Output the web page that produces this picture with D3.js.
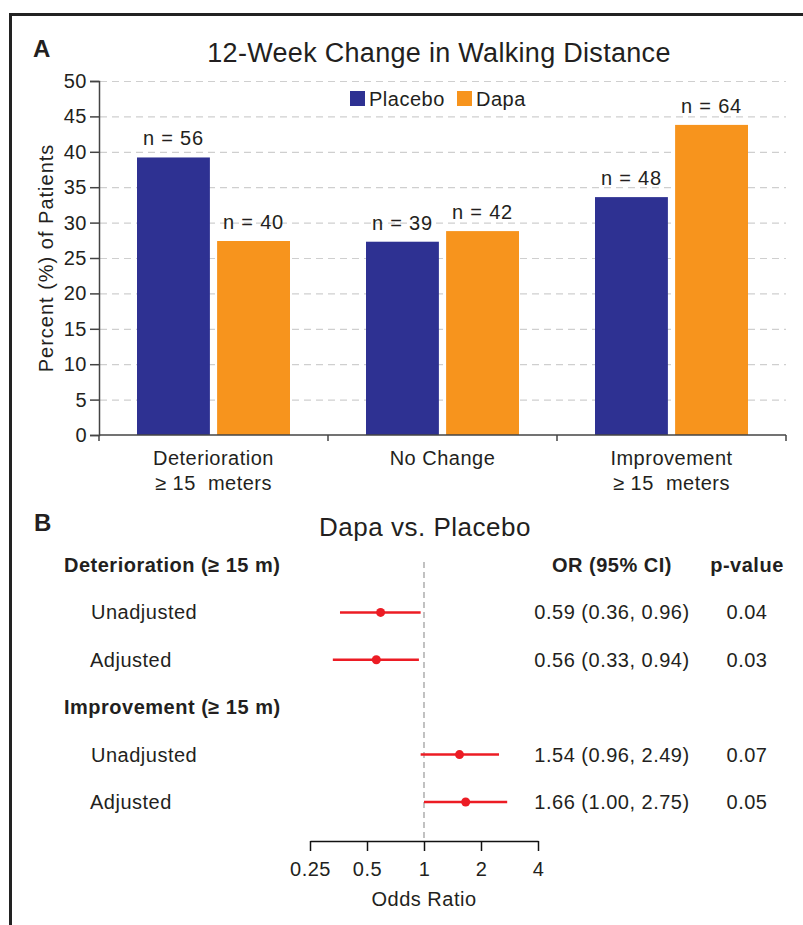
<!DOCTYPE html>
<html>
<head>
<meta charset="utf-8">
<script src="https://cdn.jsdelivr.net/npm/d3@7"></script>
<style>
  body { margin: 0; background: #fff; }
  svg { display: block; font-family: "Liberation Sans", Arial, sans-serif; }
  text { fill: #231f20; letter-spacing: 0.5px; }
</style>
</head>
<body>
<div id="plot"></div>
<script>
// panel A data
const categories = ["Deterioration\n≥ 15  meters", "No Change", "Improvement\n≥ 15  meters"];
const seriesNames = ["Placebo", "Dapa"];
const placeboPct = [39.2, 27.3, 33.6];
const dapaPct = [27.4, 28.8, 43.8];
const placeboN = [56, 39, 48];
const dapaN = [40, 42, 64];
const yTicks = [0, 5, 10, 15, 20, 25, 30, 35, 40, 45, 50];

// panel B data
const forestGroups = ["Deterioration (≥ 15 m)", "Improvement (≥ 15 m)"];
const forestLabels = ["Unadjusted", "Adjusted", "Unadjusted", "Adjusted"];
const orValues = [0.59, 0.56, 1.54, 1.66];
const ciLow = [0.36, 0.33, 0.96, 1.00];
const ciHigh = [0.96, 0.94, 2.49, 2.75];
const pValues = ["0.04", "0.03", "0.07", "0.05"];
const orTicks = [0.25, 0.5, 1, 2, 4];

const W = 803, H = 925;
const colors = { Placebo: "#2e3192", Dapa: "#f7941d" };
const red = "#ec1c24";
const FS = "20px";

const svg = d3.select("#plot").append("svg")
  .attr("width", W).attr("height", H);

// frame (only top and left show)
svg.append("path")
  .attr("d", "M10.5," + H + "V14.5H" + W)
  .attr("fill", "none").attr("stroke", "#222").attr("stroke-width", 3);

// ---------- Panel A ----------
svg.append("text").attr("x", 33).attr("y", 57)
  .style("font-weight", "bold").style("font-size", "24px").text("A");
svg.append("text").attr("x", 439).attr("y", 62)
  .attr("text-anchor", "middle").style("font-size", "27px")
  .style("letter-spacing", "0.3px")
  .text("12-Week Change in Walking Distance");

const y = d3.scaleLinear().domain([0, 50]).range([435, 81]);
const x0 = d3.scaleBand().domain(categories).range([99, 786]);
const x1 = d3.scaleBand().domain(seriesNames).range([38, 191]).paddingInner(0.09);

// grid
svg.append("g").selectAll("line")
  .data(yTicks.filter(d => d > 0))
  .join("line")
  .attr("x1", 100).attr("x2", 786)
  .attr("y1", d => y(d) + 0.5).attr("y2", d => y(d) + 0.5)
  .attr("stroke", "#cfcfcf").attr("stroke-width", 1.2)
  .attr("stroke-dasharray", "7,5");

const table = categories.map((c, i) => ({
  cat: c,
  vals: [
    { s: "Placebo", v: placeboPct[i], n: placeboN[i] },
    { s: "Dapa", v: dapaPct[i], n: dapaN[i] }
  ]
}));

const groups = svg.append("g").selectAll("g")
  .data(table).join("g")
  .attr("transform", d => "translate(" + x0(d.cat) + ",0)");

groups.selectAll("rect")
  .data(d => d.vals).join("rect")
  .attr("x", d => x1(d.s))
  .attr("width", x1.bandwidth())
  .attr("y", d => y(d.v))
  .attr("height", d => y(0) - y(d.v))
  .attr("fill", d => colors[d.s]);

groups.selectAll("text.n")
  .data(d => d.vals).join("text")
  .attr("class", "n")
  .attr("x", d => x1(d.s) + x1.bandwidth() / 2)
  .attr("y", d => y(d.v) - 12)
  .attr("text-anchor", "middle")
  .style("font-size", FS).style("letter-spacing", "0.8px")
  .text(d => "n = " + d.n);

// y axis
const yAxis = svg.append("g")
  .attr("transform", "translate(99,0)")
  .call(d3.axisLeft(y).tickValues(yTicks).tickSize(9).tickPadding(3));
yAxis.select(".domain").attr("stroke", "#444").attr("stroke-width", 1.5);
yAxis.selectAll(".tick line").attr("stroke", "#444").attr("stroke-width", 1.5);
yAxis.selectAll(".tick text").style("font-size", FS).attr("fill", "#231f20")
  .style("font-family", "'Liberation Sans', Arial, sans-serif");

svg.append("text")
  .attr("transform", "translate(53,258) rotate(-90)")
  .attr("text-anchor", "middle").style("font-size", FS)
  .style("letter-spacing", "1px")
  .text("Percent (%) of Patients");

// x axis with ticks at band edges
const xAxisG = svg.append("g");
xAxisG.append("line")
  .attr("x1", 99).attr("x2", 786).attr("y1", y(0)).attr("y2", y(0))
  .attr("stroke", "#444").attr("stroke-width", 1.5);
const edges = categories.map(c => x0(c) + x0.bandwidth()).concat([x0(categories[0])]);
xAxisG.selectAll("line.t")
  .data(edges).join("line")
  .attr("class", "t")
  .attr("x1", d => d).attr("x2", d => d)
  .attr("y1", y(0)).attr("y2", y(0) + 6)
  .attr("stroke", "#444").attr("stroke-width", 1.5);

const catLabels = svg.append("g").selectAll("text")
  .data(categories).join("text")
  .attr("x", d => x0(d) + x0.bandwidth() / 2)
  .attr("y", 465)
  .attr("text-anchor", "middle")
  .style("font-size", FS);
catLabels.selectAll("tspan")
  .data(d => d.split("\n")).join("tspan")
  .attr("x", function() { return this.parentNode.getAttribute("x"); })
  .attr("dy", (d, i) => i === 0 ? 0 : 25)
  .style("white-space", "pre")
  .text(d => d);

// legend
const legend = svg.append("g").selectAll("g")
  .data(seriesNames).join("g")
  .attr("transform", (d, i) => "translate(" + [350, 457][i] + ",91)");
legend.append("rect").attr("width", 15).attr("height", 15)
  .attr("fill", d => colors[d]);
legend.append("text").attr("x", 19).attr("y", 15)
  .style("font-size", FS).text(d => d);

// ---------- Panel B ----------
svg.append("text").attr("x", 34).attr("y", 531)
  .style("font-weight", "bold").style("font-size", "24px").text("B");
svg.append("text").attr("x", 425).attr("y", 536)
  .attr("text-anchor", "middle").style("font-size", "26px")
  .text("Dapa vs. Placebo");

const fx = d3.scaleLog().base(2).domain([0.25, 4]).range([310, 538]);
const rowY = d3.scalePoint().domain(d3.range(6)).range([565, 802]);
// row index: header 0, rows 1,2, header 3, rows 4,5
const rowIndex = [1, 2, 4, 5];
const headerIndex = [0, 3];

svg.append("line")
  .attr("x1", fx(1)).attr("x2", fx(1))
  .attr("y1", 562).attr("y2", 841)
  .attr("stroke", "#999").attr("stroke-width", 1.2)
  .attr("stroke-dasharray", "6,4");

svg.append("g").selectAll("text")
  .data(forestGroups).join("text")
  .attr("x", 64).attr("y", (d, i) => rowY(headerIndex[i]) + 7)
  .style("font-weight", "bold").style("font-size", FS)
  .text(d => d);

svg.append("text").attr("x", 612).attr("y", rowY(0) + 7)
  .attr("text-anchor", "middle").style("font-weight", "bold").style("font-size", FS)
  .text("OR (95% CI)");
svg.append("text").attr("x", 747).attr("y", rowY(0) + 7)
  .attr("text-anchor", "middle").style("font-weight", "bold").style("font-size", FS)
  .text("p-value");

const rows = forestLabels.map((l, i) => ({
  label: l, or: orValues[i], lo: ciLow[i], hi: ciHigh[i], p: pValues[i], r: rowIndex[i]
}));

const rowG = svg.append("g").selectAll("g")
  .data(rows).join("g");
rowG.append("text").attr("x", (d, i) => i % 2 === 0 ? 91 : 90)
  .attr("y", d => rowY(d.r) + 7).style("font-size", FS).text(d => d.label);
rowG.append("line")
  .attr("x1", d => fx(d.lo)).attr("x2", d => fx(d.hi))
  .attr("y1", d => rowY(d.r)).attr("y2", d => rowY(d.r))
  .attr("stroke", red).attr("stroke-width", 2.5);
rowG.append("circle")
  .attr("cx", d => fx(d.or)).attr("cy", d => rowY(d.r)).attr("r", 4.5)
  .attr("fill", red);
rowG.append("text").attr("x", 612).attr("y", d => rowY(d.r) + 7)
  .attr("text-anchor", "middle").style("font-size", FS)
  .text(d => d.or.toFixed(2) + " (" + d.lo.toFixed(2) + ", " + d.hi.toFixed(2) + ")");
rowG.append("text").attr("x", 747).attr("y", d => rowY(d.r) + 7)
  .attr("text-anchor", "middle").style("font-size", FS)
  .text(d => d.p);

const fAxis = svg.append("g")
  .attr("transform", "translate(0,841)")
  .call(d3.axisBottom(fx).tickValues(orTicks).tickFormat(d => String(d))
    .tickSize(10).tickSizeOuter(0).tickPadding(11));
fAxis.select(".domain").attr("stroke", "#111").attr("stroke-width", 1.5);
fAxis.selectAll(".tick line").attr("stroke", "#111").attr("stroke-width", 1.5);
fAxis.selectAll(".tick text").style("font-size", FS).attr("fill", "#231f20")
  .style("font-family", "'Liberation Sans', Arial, sans-serif");

svg.append("text").attr("x", fx(1)).attr("y", 906)
  .attr("text-anchor", "middle").style("font-size", FS)
  .text("Odds Ratio");
</script>
</body>
</html>
